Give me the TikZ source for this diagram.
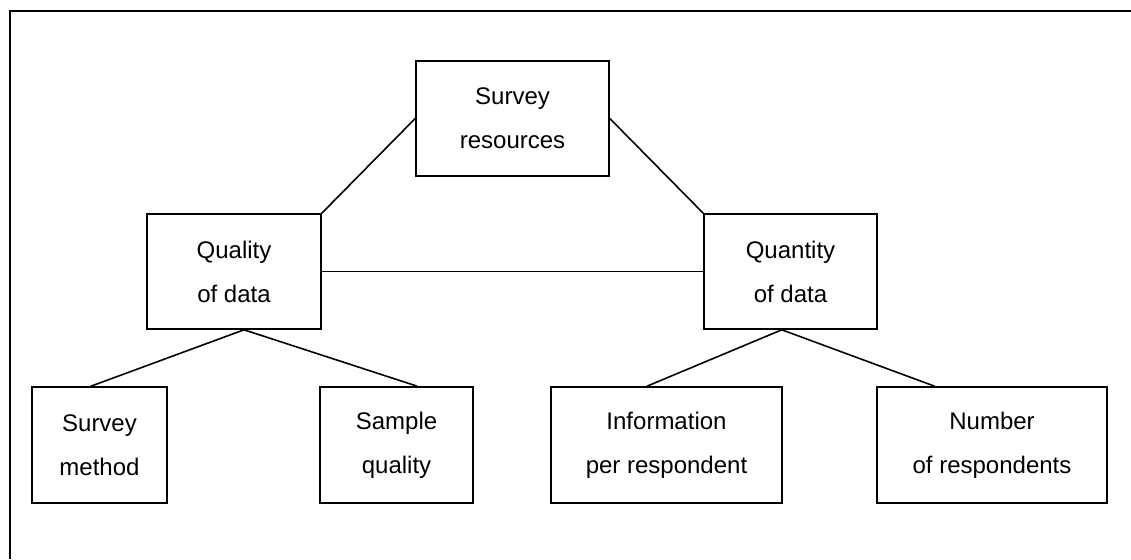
\documentclass[tikz,border=0pt]{standalone}
\usepackage{fontspec}
\setmainfont{Liberation Sans}
\usetikzlibrary{calc}
\begin{document}
\begin{tikzpicture}[x=1pt,y=-1pt,
  box/.style={draw,line width=1.6pt,rectangle,inner sep=0pt,align=center,
    font=\fontsize{24}{44}\selectfont},
  link/.style={line width=1.6pt}]
\useasboundingbox (0,0) rectangle (1131,559);
\coordinate (fa) at (10,559);
\coordinate (fb) at (10,11);
\coordinate (fc) at (1131,11);
\draw[line width=2pt] (fa) -- (fb) -- (fc);
\node[box,minimum width=193pt,minimum height=115pt] (res) at (512.5,118.5) {Survey\\resources};
\node[box,minimum width=174pt,minimum height=115pt] (qual) at (234,271.5) {Quality\\of data};
\node[box,minimum width=173pt,minimum height=115pt] (quan) at (790.5,271.5) {Quantity\\of data};
\node[box,minimum width=135pt,minimum height=116pt] (meth) at (99.5,445) {Survey\\method};
\node[box,minimum width=153pt,minimum height=116pt] (samp) at (396.5,445) {Sample\\quality};
\node[box,minimum width=231pt,minimum height=116pt] (info) at (666.5,445) {Information\\per respondent};
\node[box,minimum width=230pt,minimum height=116pt] (num) at (992,445) {Number\\of respondents};
\draw[link] (res.west) -- (qual.north east);
\draw[link] (res.east) -- (quan.north west);
\draw[link] (qual.east) -- (quan.west);
\draw[link] ($(meth.north west)!0.437!(meth.north east)$) -- ($(qual.south west)!0.557!(qual.south east)$) -- ($(samp.north west)!0.634!(samp.north east)$);
\draw[link] ($(info.north west)!0.416!(info.north east)$) -- ($(quan.south west)!0.45!(quan.south east)$) -- ($(num.north west)!0.252!(num.north east)$);
\end{tikzpicture}
\end{document}
